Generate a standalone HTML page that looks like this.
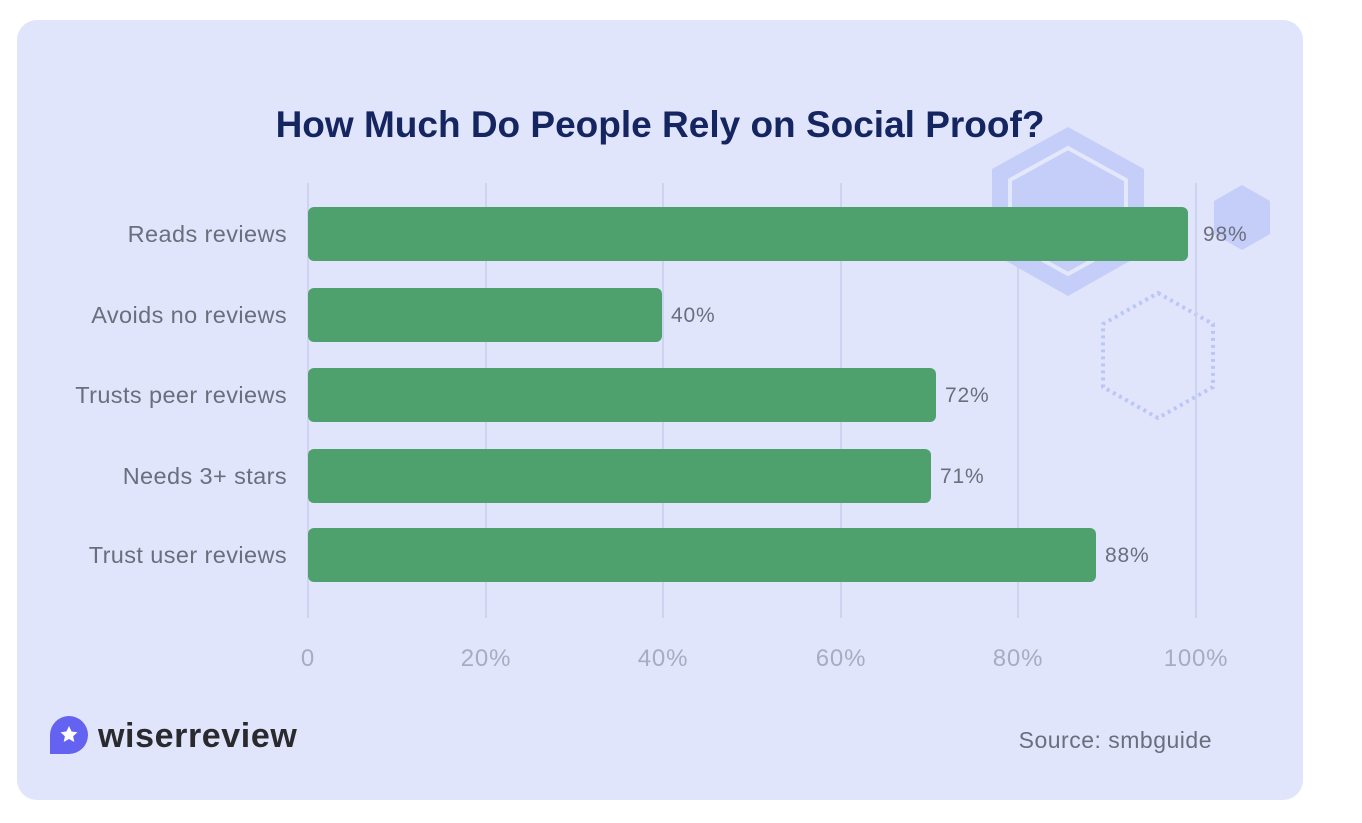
<!DOCTYPE html>
<html><head><meta charset="utf-8"><style>
body{margin:0;background:#fff;width:1362px;height:818px;overflow:hidden;font-family:"Liberation Sans",sans-serif}
</style></head><body>
<svg width="1362" height="818" xmlns="http://www.w3.org/2000/svg" font-family="Liberation Sans, sans-serif">
<rect x="17" y="20" width="1286" height="780" rx="20" fill="#e0e5fc"/>
<polygon points="1068,127 1144,169 1144,253 1068,296 992,253 992,169" fill="#c5cef8"/>
<polygon points="1068,148 1126,180 1126,242 1068,274 1010,242 1010,180" fill="none" stroke="#e4e8fd" stroke-width="4"/>
<polygon points="1242,185 1270,201 1270,234 1242,250 1214,234 1214,201" fill="#c5cef8"/>
<polygon points="1158,293 1213,324 1213,387 1158,418 1103,387 1103,324" fill="none" stroke="#bcc6f6" stroke-width="4" stroke-dasharray="3,4"/>
<text x="660" y="137" text-anchor="middle" font-size="37" font-weight="bold" fill="#14255f">How Much Do People Rely on Social Proof?</text>
<g stroke="#c9cfee" stroke-width="2" opacity="0.8">
<line x1="308" y1="183" x2="308" y2="618"/><line x1="486" y1="183" x2="486" y2="618"/>
<line x1="663" y1="183" x2="663" y2="618"/><line x1="841" y1="183" x2="841" y2="618"/>
<line x1="1018" y1="183" x2="1018" y2="618"/><line x1="1196" y1="183" x2="1196" y2="618"/>
</g>
<g fill="#4ea06c">
<rect x="308" y="207" width="880" height="54" rx="6"/>
<rect x="308" y="288" width="354" height="54" rx="6"/>
<rect x="308" y="368" width="628" height="54" rx="6"/>
<rect x="308" y="449" width="623" height="54" rx="6"/>
<rect x="308" y="528" width="788" height="54" rx="6"/>
</g>
<g font-size="23.5" fill="#6b6e7c" text-anchor="end" letter-spacing="0.4">
<text x="287" y="242">Reads reviews</text>
<text x="287" y="323">Avoids no reviews</text>
<text x="287" y="403">Trusts peer reviews</text>
<text x="287" y="484">Needs 3+ stars</text>
<text x="287" y="563">Trust user reviews</text>
</g>
<g font-size="21" fill="#6b6e7c" letter-spacing="0.8">
<text x="1203" y="241">98%</text>
<text x="671" y="322">40%</text>
<text x="945" y="402">72%</text>
<text x="940" y="483">71%</text>
<text x="1105" y="562">88%</text>
</g>
<g font-size="24" fill="#a7abc4" text-anchor="middle" letter-spacing="0.8">
<text x="308" y="666">0</text><text x="486" y="666">20%</text><text x="663" y="666">40%</text>
<text x="841" y="666">60%</text><text x="1018" y="666">80%</text><text x="1196" y="666">100%</text>
</g>
<path d="M50,735 a19,19 0 1 1 19,19 h-19 z" fill="#6462f0"/>
<polygon points="69,726 71.6,731.5 77.5,732.2 73.1,736.2 74.3,742 69,739 63.7,742 64.9,736.2 60.5,732.2 66.4,731.5" fill="#fff"/>
<text x="98" y="747" font-size="34" font-weight="bold" fill="#2a2a2e" letter-spacing="0.6">wiserreview</text>
<text x="1212" y="748" text-anchor="end" font-size="23" fill="#6b6e7c" letter-spacing="0.5">Source: smbguide</text>
</svg>
</body></html>
